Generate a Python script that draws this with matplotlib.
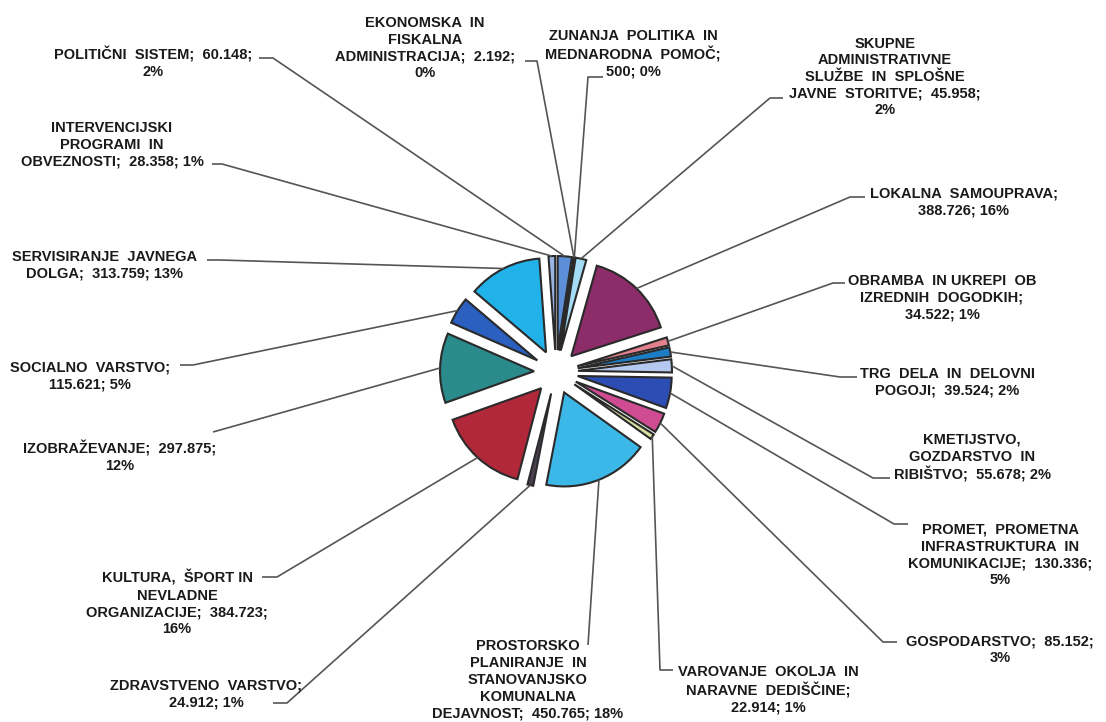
import math
import matplotlib
matplotlib.use("Agg")
import matplotlib.pyplot as plt

plt.rcParams['font.family'] = ['Liberation Sans', 'DejaVu Sans']

# values in thousands, clockwise from 12 o'clock
categories = [
    "POLITIČNI SISTEM", "EKONOMSKA IN FISKALNA ADMINISTRACIJA",
    "ZUNANJA POLITIKA IN MEDNARODNA POMOČ",
    "SKUPNE ADMINISTRATIVNE SLUŽBE IN SPLOŠNE JAVNE STORITVE",
    "LOKALNA SAMOUPRAVA", "OBRAMBA IN UKREPI OB IZREDNIH DOGODKIH",
    "TRG DELA IN DELOVNI POGOJI", "KMETIJSTVO, GOZDARSTVO IN RIBIŠTVO",
    "PROMET, PROMETNA INFRASTRUKTURA IN KOMUNIKACIJE", "GOSPODARSTVO",
    "VAROVANJE OKOLJA IN NARAVNE DEDIŠČINE",
    "PROSTORSKO PLANIRANJE IN STANOVANJSKO KOMUNALNA DEJAVNOST",
    "ZDRAVSTVENO VARSTVO", "KULTURA, ŠPORT IN NEVLADNE ORGANIZACIJE",
    "IZOBRAŽEVANJE", "SOCIALNO VARSTVO", "SERVISIRANJE JAVNEGA DOLGA",
    "INTERVENCIJSKI PROGRAMI IN OBVEZNOSTI",
]
values = [60148, 2192, 500, 45958, 388726, 34522, 39524, 55678, 130336,
          85152, 22914, 450765, 24912, 384723, 297875, 115621, 313759, 28358]

labels = [
    "POLITIČNI  SISTEM;  60.148;\n2%",
    "EKONOMSKA  IN\nFISKALNA\nADMINISTRACIJA;  2.192;\n0%",
    "ZUNANJA  POLITIKA  IN\nMEDNARODNA  POMOČ;\n500; 0%",
    "SKUPNE\nADMINISTRATIVNE\nSLUŽBE  IN  SPLOŠNE\nJAVNE  STORITVE;  45.958;\n2%",
    "LOKALNA  SAMOUPRAVA;\n388.726; 16%",
    "OBRAMBA  IN UKREPI  OB\nIZREDNIH  DOGODKIH;\n34.522; 1%",
    "TRG  DELA  IN  DELOVNI\nPOGOJI;  39.524; 2%",
    "KMETIJSTVO,\nGOZDARSTVO  IN\nRIBIŠTVO;  55.678; 2%",
    "PROMET,  PROMETNA\nINFRASTRUKTURA  IN\nKOMUNIKACIJE;  130.336;\n5%",
    "GOSPODARSTVO;  85.152;\n3%",
    "VAROVANJE  OKOLJA  IN\nNARAVNE  DEDIŠČINE;\n22.914; 1%",
    "PROSTORSKO\nPLANIRANJE  IN\nSTANOVANJSKO\nKOMUNALNA\nDEJAVNOST;  450.765; 18%",
    "ZDRAVSTVENO  VARSTVO;\n24.912; 1%",
    "KULTURA,  ŠPORT IN\nNEVLADNE\nORGANIZACIJE;  384.723;\n16%",
    "IZOBRAŽEVANJE;  297.875;\n12%",
    "SOCIALNO  VARSTVO;\n115.621; 5%",
    "SERVISIRANJE  JAVNEGA\nDOLGA;  313.759; 13%",
    "INTERVENCIJSKI\nPROGRAMI  IN\nOBVEZNOSTI;  28.358; 1%",
]

colors = ['#5d8fd8', '#27375a', '#1e2a40', '#a5dcf5', '#8c2c68', '#e2808e',
          '#1c7cc4', '#b4c8f0', '#2c4db4', '#d04c92', '#d6e0a0', '#3cb8e8',
          '#4a4050', '#b0283a', '#2b8a8c', '#2b5fc0', '#21b2ea', '#98b4e4']

# layout in pixel coords (y from top): text centre, tick start x, anchor x, anchor y
text_pos = [(153, 63), (425, 48), (633, 54), (885, 77), (964, 202), (942, 298),
            (947, 382), (972, 458), (1000, 555), (1000, 650), (768, 690),
            (528, 680), (206, 694), (177, 603), (120, 457), (90, 376),
            (105, 265), (112, 145)]
ticks = [(259, 273, 58), (525, 537, 61), (603, 588, 77), (783, 770, 98),
         (865, 850, 197), (845, 833, 283), (857, 840, 377), (890, 873, 478),
         (908, 894, 524), (897, 883, 642), (673, 660, 670), (588, 588, 645),
         (273, 287, 703), (262, 277, 577), (213, 213, 432), (180, 193, 365),
         (207, 220, 260), (212, 222, 164)]

H = 722
fig = plt.figure(figsize=(11.06, 7.22), dpi=100)
ax = fig.add_axes([0, 0, 1, 1])

wedges, _ = ax.pie(values, explode=[22] * len(values), radius=94,
                   center=(556, H - 372), startangle=90, counterclock=False,
                   colors=colors,
                   wedgeprops=dict(edgecolor='#2a2a2a', linewidth=1.5))

for w, lab, (tx, ty), (x0, x1, yk) in zip(wedges, labels, text_pos, ticks):
    mid = math.radians((w.theta1 + w.theta2) / 2)
    px = w.center[0] + w.r * math.cos(mid)
    py = w.center[1] + w.r * math.sin(mid)
    ax.plot([px, x1, x0], [py, H - yk, H - yk], color='#555555', lw=1.2,
            solid_capstyle='butt')
    ax.text(tx, H - ty, lab, ha='center', va='center', multialignment='center',
            fontsize=10.5, fontweight='bold', color='#1a1a1a', linespacing=1.25)

ax.set_xlim(0, 1106)
ax.set_ylim(0, H)
ax.set_aspect('auto')
ax.axis('off')

fig.savefig('out.png', dpi=100, facecolor='white')
